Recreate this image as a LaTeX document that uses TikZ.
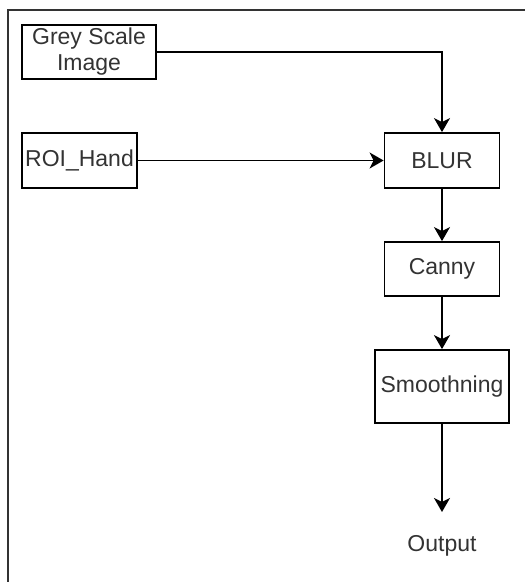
\documentclass[tikz,border=0pt]{standalone}
\usepackage{fontspec}
\setmainfont{Liberation Sans}
\usetikzlibrary{arrows.meta}
\definecolor{txt}{RGB}{51,51,51}
\begin{document}
\begin{tikzpicture}[x=1pt,y=-1pt,
  box/.style={draw=black,line width=1.8pt,inner sep=0pt,text=txt,font=\fontsize{23}{26}\selectfont,align=center},
  conn/.style={line width=1.8pt,-{Stealth[length=14pt,width=16pt,inset=4pt]}},
  lbl/.style={inner sep=0pt,text=txt,font=\fontsize{23}{26}\selectfont}]
\useasboundingbox (0,0) rectangle (525,582);
\draw[line width=2.2pt,color=black!80] (8,600) -- (8,10) -- (540,10);
\node[box,minimum width=134pt,minimum height=54pt] (grey) at (89,52) {Grey Scale\\Image};
\node[box,minimum width=115pt,minimum height=55pt] (roi) at (79.5,160.5) {ROI\_Hand};
\node[box,minimum width=115pt,minimum height=55pt] (blur) at (442,160.5) {BLUR};
\node[box,minimum width=115pt,minimum height=54pt] (canny) at (442,269) {Canny};
\node[box,minimum width=134pt,minimum height=73pt] (smooth) at (442,386.5) {Smoothning};
\node[lbl] (out) at (442,546) {Output};
\coordinate (outend) at (442,512);
\draw[conn] (grey.east) -| (blur.north);
\draw[conn] (roi.east) -- (blur.west);
\draw[conn] (blur.south) -- (canny.north);
\draw[conn] (canny.south) -- (smooth.north);
\draw[conn] (smooth.south) -- (outend);
\end{tikzpicture}
\end{document}
